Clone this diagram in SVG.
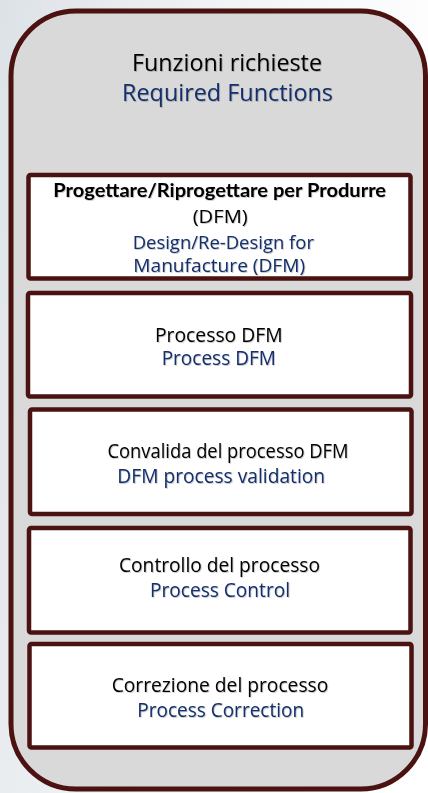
<svg xmlns="http://www.w3.org/2000/svg" width="428" height="793" viewBox="0 0 428 793">
<defs>
<linearGradient id="bg" x1="0" y1="0" x2="1" y2="0.3">
<stop offset="0" stop-color="#dde2e7"/>
<stop offset="0.5" stop-color="#f2f4f6"/>
<stop offset="1" stop-color="#ffffff"/>
</linearGradient>
<filter id="ts" x="-5%" y="-20%" width="110%" height="150%">
<feDropShadow dx="0.8" dy="0.8" stdDeviation="0.6" flood-color="#000" flood-opacity="0.25"/>
</filter>
</defs>
<style>
.box{fill:#ffffff;stroke:#4a1210;stroke-width:4.5}
.t{font-family:"Open Sans","Noto Sans","DejaVu Sans",sans-serif;text-anchor:middle;fill:#000}
.b{fill:#132f6b}
.k{font-family:"Lato","Open Sans",sans-serif;font-weight:bold}
</style>
<rect x="0" y="0" width="428" height="793" fill="url(#bg)"/>
<g id="outer">
<rect x="11" y="11" width="414.5" height="778" rx="65" ry="65" fill="#d9d9d9" stroke="#4a1210" stroke-width="5"/>
<text class="t" x="227" y="71" font-size="23.5" textLength="190" lengthAdjust="spacingAndGlyphs" filter="url(#ts)">Funzioni richieste</text>
<text class="t b" x="227.5" y="100.5" font-size="23.5" textLength="211" lengthAdjust="spacingAndGlyphs" filter="url(#ts)">Required Functions</text>
</g>
<g id="node1">
<rect class="box" x="28.5" y="175" width="382" height="103.5" rx="2"/>
<text class="t k" x="219.7" y="196.7" font-size="18.5" textLength="332.7" lengthAdjust="spacingAndGlyphs" filter="url(#ts)">Progettare/Riprogettare per Produrre</text>
<text class="t" x="220.2" y="222.5" font-size="18.5" textLength="55" lengthAdjust="spacingAndGlyphs" filter="url(#ts)">(DFM)</text>
<text class="t b" x="223.3" y="249" font-size="18.5" textLength="181.3" lengthAdjust="spacingAndGlyphs" filter="url(#ts)">Design/Re-Design for</text>
<text class="t b" x="219.2" y="271.7" font-size="18.5" textLength="171.7" lengthAdjust="spacingAndGlyphs" filter="url(#ts)">Manufacture (DFM)</text>
</g>
<g id="node2">
<rect class="box" x="28" y="293" width="383" height="103.5" rx="2"/>
<text class="t" x="218.8" y="341.7" font-size="20.5" textLength="127.7" lengthAdjust="spacingAndGlyphs" filter="url(#ts)">Processo DFM</text>
<text class="t b" x="218.8" y="365" font-size="20.5" textLength="114.3" lengthAdjust="spacingAndGlyphs" filter="url(#ts)">Process DFM</text>
</g>
<g id="node3">
<rect class="box" x="30" y="409.5" width="381.5" height="104.5" rx="2"/>
<text class="t" x="228" y="458.3" font-size="20.5" textLength="241" lengthAdjust="spacingAndGlyphs" filter="url(#ts)">Convalida del processo DFM</text>
<text class="t b" x="221.2" y="483.3" font-size="20.5" textLength="207.7" lengthAdjust="spacingAndGlyphs" filter="url(#ts)">DFM process validation</text>
</g>
<g id="node4">
<rect class="box" x="29" y="528" width="381.5" height="104.5" rx="2"/>
<text class="t" x="219.5" y="571.7" font-size="20.5" textLength="201" lengthAdjust="spacingAndGlyphs" filter="url(#ts)">Controllo del processo</text>
<text class="t b" x="220" y="596.7" font-size="20.5" textLength="140" lengthAdjust="spacingAndGlyphs" filter="url(#ts)">Process Control</text>
</g>
<g id="node5">
<rect class="box" x="29.5" y="644" width="382" height="103.5" rx="2"/>
<text class="t" x="220" y="691.7" font-size="20.5" textLength="216.6" lengthAdjust="spacingAndGlyphs" filter="url(#ts)">Correzione del processo</text>
<text class="t b" x="220.7" y="716.7" font-size="20.5" textLength="166.7" lengthAdjust="spacingAndGlyphs" filter="url(#ts)">Process Correction</text>
</g>
<g id="connectors"/>
</svg>
